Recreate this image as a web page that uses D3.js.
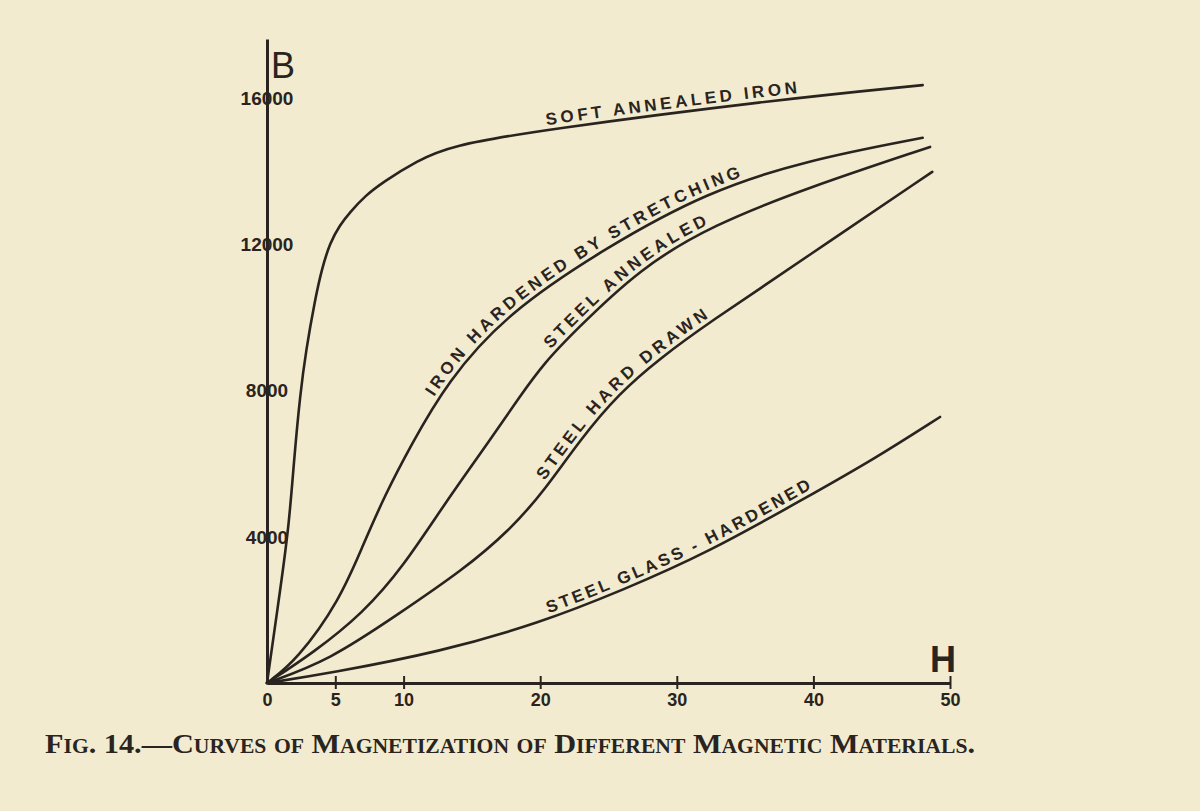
<!DOCTYPE html>
<html>
<head>
<meta charset="utf-8">
<script src="https://cdn.jsdelivr.net/npm/d3@7"></script>
<style>
  html, body { margin: 0; padding: 0; background: #f2ebcf; }
  svg { display: block; }
</style>
</head>
<body>
<svg id="chart"></svg>
<script>
// Magnetization curves, H (field) against B (induction)
const hSoftIron = [0, 1.02, 1.61, 1.98, 2.42, 2.86, 3.51, 4.03, 4.61, 5.34, 6.08, 7.17, 8.49, 10.98, 13.4, 20, 37, 48];
const bSoftIron = [0, 2680, 4320, 6100, 7870, 9100, 10470, 11340, 12030, 12520, 12870, 13310, 13690, 14270, 14680, 15110, 15930, 16340];

const hIronHard = [0, 2.2, 5.34, 7.03, 8.64, 10.47, 13.18, 17.57, 24.89, 32.21, 39.53, 48];
const bIronHard = [0, 630, 2270, 3770, 5140, 6450, 8230, 10110, 11920, 13420, 14290, 14900];

const hSteelAnnealed = [0, 3.37, 7.03, 9.96, 13.18, 16.33, 18.52, 20.35, 22.4, 27.3, 32.65, 39.53, 48.54];
const bSteelAnnealed = [0, 820, 1910, 3170, 5000, 6640, 7840, 8770, 9570, 11340, 12520, 13530, 14650];

const hSteelHard = [0, 4.61, 9.52, 14.35, 17.79, 20.35, 22.9, 25.8, 28.8, 32.2, 39.5, 48.7];
const bSteelHard = [0, 630, 1860, 3090, 4180, 5280, 6640, 7930, 8880, 9810, 11640, 13970];

const hSteelGlass = [0, 4.61, 12.66, 19.99, 26.06, 32.21, 39.53, 44.36, 49.27];
const bSteelGlass = [0, 270, 850, 1640, 2540, 3550, 5080, 6100, 7270];

const curveNames = [
  "SOFT ANNEALED IRON",
  "IRON HARDENED BY STRETCHING",
  "STEEL ANNEALED",
  "STEEL HARD DRAWN",
  "STEEL GLASS - HARDENED"
];
// H value on each curve where its label begins
const labelStartH = [20.5, 12.5, 21, 20.6, 20.7];

const xTicks = [0, 5, 10, 20, 30, 40, 50];
const yTicks = [4000, 8000, 12000, 16000];

const caption = "Fig. 14.\u2014Curves of Magnetization of Different Magnetic Materials.";

const series = [
  [hSoftIron, bSoftIron],
  [hIronHard, bIronHard],
  [hSteelAnnealed, bSteelAnnealed],
  [hSteelHard, bSteelHard],
  [hSteelGlass, bSteelGlass]
].map(([h, b]) => h.map((v, i) => ({ h: v, b: b[i] })));

// Chart setup
const width = 1200;
const height = 811;
const ink = "#2a2420";
const sans = "'Liberation Sans', Arial, sans-serif";

const svg = d3.select("#chart")
  .attr("width", width)
  .attr("height", height);

svg.append("rect")
  .attr("width", width)
  .attr("height", height)
  .attr("fill", "#f2ebcf");

const x = d3.scaleLinear().domain([0, 50]).range([267, 950]);
const y = d3.scaleLinear().domain([0, 17600]).range([683, 39]);

// Curves (basis spline smooths the hand-read points like the drawn originals)
const line = d3.line()
  .x(d => x(d.h))
  .y(d => y(d.b))
  .curve(d3.curveBasis);

const paths = svg.append("g")
  .selectAll("path")
  .data(series)
  .join("path")
  .attr("id", (d, i) => `curve-${i}`)
  .attr("fill", "none")
  .attr("stroke", ink)
  .attr("stroke-width", 2.6)
  .attr("stroke-linecap", "round")
  .attr("d", line);

// Axes
const xAxis = svg.append("g")
  .attr("transform", `translate(0,${y(0)})`)
  .call(d3.axisBottom(x).tickValues(xTicks).tickSizeOuter(0).tickSize(0).tickPadding(10));

const yAxis = svg.append("g")
  .attr("transform", `translate(${x(0)},0)`)
  .call(d3.axisLeft(y).tickValues(yTicks).tickFormat(d3.format("d")).tickSizeOuter(0).tickSize(0));

[xAxis, yAxis].forEach(g => {
  g.select(".domain").attr("stroke", ink).attr("stroke-width", 3);
  g.selectAll("text")
    .attr("fill", ink)
    .style("font-family", sans)
    .style("font-weight", "bold")
    .style("font-size", "18px");
});

// small ticks crossing the H axis
xAxis.selectAll(".tick line")
  .attr("stroke", ink)
  .attr("stroke-width", 2)
  .attr("y1", d => d === 0 ? 0 : -7)
  .attr("y2", d => d === 0 ? 0 : 6);

// B labels sit over the axis line
yAxis.selectAll(".tick text")
  .attr("x", 0)
  .attr("dy", "0.35em")
  .attr("text-anchor", "middle")
  .style("font-size", "19px");

// Axis letters
svg.append("text")
  .attr("x", x(0) + 4)
  .attr("y", 78)
  .attr("fill", ink)
  .style("font-family", "'Liberation Sans Narrow', 'Liberation Sans', Arial, sans-serif")
  .style("font-size", "36px")
  .text("B");

svg.append("text")
  .attr("x", x(50) - 20)
  .attr("y", y(0) - 11)
  .attr("fill", ink)
  .style("font-family", sans)
  .style("font-weight", "bold")
  .style("font-size", "36px")
  .text("H");

// Curve labels follow their curves
const labels = svg.append("g");
paths.each(function (d, i) {
  const total = this.getTotalLength();
  const target = x(labelStartH[i]);
  let offset = 0;
  for (let l = 0; l <= total; l += 1) {
    if (this.getPointAtLength(l).x >= target) { offset = l; break; }
  }
  labels.append("text")
    .attr("dy", -5)
    .attr("fill", ink)
    .style("font-family", sans)
    .style("font-weight", "bold")
    .style("font-size", "17px")
    .style("letter-spacing", i === 4 ? "3px" : "3.6px")
    .append("textPath")
    .attr("href", `#curve-${i}`)
    .attr("startOffset", offset)
    .text(curveNames[i]);
});

// Caption
svg.append("text")
  .attr("x", 45)
  .attr("y", 753)
  .attr("fill", ink)
  .attr("textLength", 930)
  .attr("lengthAdjust", "spacingAndGlyphs")
  .style("font-family", "'Liberation Serif', 'DejaVu Serif', serif")
  .style("font-weight", "bold")
  .style("font-variant", "small-caps")
  .style("font-size", "28px")
  .text(caption);
</script>
</body>
</html>
